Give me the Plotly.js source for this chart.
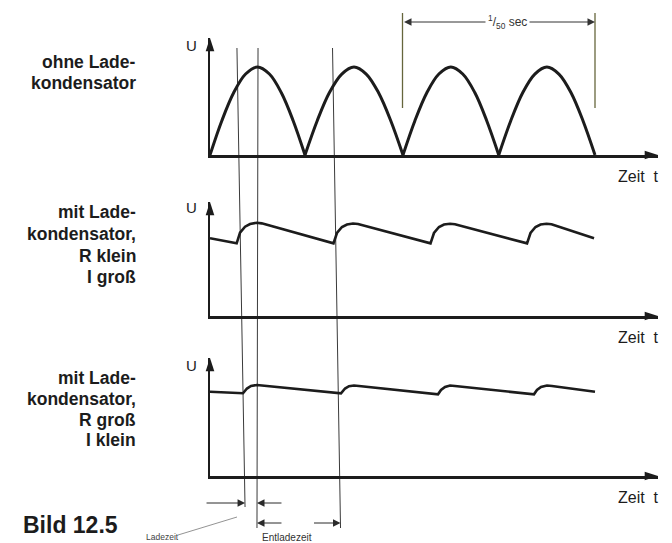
<!DOCTYPE html>
<html>
<head>
<meta charset="utf-8">
<script src="https://cdn.plot.ly/plotly-3.0.1.min.js"></script>
<style>
html,body{margin:0;padding:0;background:#ffffff;}
#chart{width:672px;height:543px;}
</style>
</head>
<body>
<div id="chart"></div>
<script>
// ---- data (time t in ms, voltage U relative to the peak of the rectified wave) ----
// ohne Ladekondensator: rectified half-waves (segments separated by null to keep cusps)
const tOhne = [0, 1.23, 2.47, 3.70, 4.93, 6.17, 7.40, 8.64, 9.87, null,
               9.87, 11.14, 12.41, 13.69, 14.96, 16.23, 17.50, 18.78, 20.05, null,
               20.05, 21.29, 22.54, 23.78, 25.02, 26.26, 27.51, 28.75, 30.00, null,
               30.00, 31.25, 32.50, 33.75, 35.00, 36.25, 37.50, 38.75, 40.00];
const uOhne = [0, 0.39, 0.71, 0.92, 1.00, 0.92, 0.71, 0.39, 0, null,
               0, 0.39, 0.71, 0.92, 1.00, 0.92, 0.71, 0.39, 0, null,
               0, 0.39, 0.71, 0.92, 1.00, 0.92, 0.71, 0.39, 0, null,
               0, 0.39, 0.71, 0.92, 1.00, 0.92, 0.71, 0.39, 0];
// mit Ladekondensator, R klein, I groß
const tKlein = [0, 2.77, 3.12, 3.64, 4.16, 4.85, 5.37, 12.83, 13.19, 13.71, 14.23, 14.86, 15.38,
                22.91, 23.27, 23.79, 24.31, 24.94, 25.45, 32.94, 33.30, 33.82, 34.34, 34.96, 35.48, 39.90];
const uKlein = [0.883, 0.826, 0.947, 1.015, 1.045, 1.060, 1.053, 0.826, 0.943, 1.011, 1.040, 1.051, 1.045,
                0.826, 0.943, 1.011, 1.040, 1.049, 1.042, 0.826, 0.943, 1.011, 1.040, 1.049, 1.042, 0.883];
// mit Ladekondensator, R groß, I klein
const tGross = [0, 3.43, 3.84, 4.26, 4.88, 5.40, 13.61, 14.03, 14.44, 14.96, 15.48,
                23.69, 24.00, 24.42, 24.94, 25.45, 33.66, 33.97, 34.39, 35.01, 35.53, 40.00];
const uGross = [0.958, 0.940, 0.994, 1.023, 1.034, 1.028, 0.940, 0.994, 1.020, 1.028, 1.023,
                0.928, 0.977, 1.011, 1.028, 1.023, 0.928, 0.977, 1.011, 1.028, 1.023, 0.958];
// marker lines (Ladezeit / Entladezeit), time at top and at bottom of the (slightly skewed) scan
const markTop = [2.80, 4.99, 12.73];
const markBottom = [3.64, 4.88, 13.56];
// one period of the 50 Hz mains
const periodMarks = [20, 40];
const periodLabel = '<sup>1</sup>/<sub>50</sub> sec';
// labels
const panelLabels = [
  ['ohne Lade-', 'kondensator'],
  ['mit Lade-', 'kondensator,', 'R klein', 'I groß'],
  ['mit Lade-', 'kondensator,', 'R groß', 'I klein']
];
const yAxisLabel = 'U';
const xAxisLabel = 'Zeit&nbsp; t';
const figureLabel = 'Bild 12.5';
const chargeLabel = 'Ladezeit';
const dischargeLabel = 'Entladezeit';

// ---- layout geometry ----
const W = 672, H = 543;
const ink = '#1c1c1c';
const FONT = '"Liberation Sans", Arial, Helvetica, sans-serif';
const x0px = 210, xEndPx = 658, pxPerMs = 9.625, pxPerU = 88;
const tMax = (xEndPx - x0px) / pxPerMs;
const px = v => v / W;
const py = v => 1 - v / H;

const panels = [
  {base: 155, tip: 38, t: tOhne, u: uOhne, shape: 'spline', w: 3, labelY: [62, 83], uY: 45, zeitY: 177},
  {base: 316, tip: 202, t: tKlein, u: uKlein, shape: 'linear', w: 2.6, labelY: [212, 234, 256, 277], uY: 207, zeitY: 337},
  {base: 476, tip: 358, t: tGross, u: uGross, shape: 'linear', w: 2.6, labelY: [378, 399, 420, 440], uY: 365, zeitY: 497}
];

const axStyle = {showline: true, linewidth: 2.5, linecolor: ink, showgrid: false, zeroline: false,
                 showticklabels: false, ticks: '', fixedrange: true};

const layout = {
  width: W, height: H,
  margin: {l: 0, r: 0, t: 0, b: 0},
  paper_bgcolor: '#ffffff', plot_bgcolor: 'rgba(0,0,0,0)',
  showlegend: false,
  font: {family: FONT, color: ink},
  shapes: [], annotations: []
};
const traces = [];

panels.forEach((p, i) => {
  const sfx = i ? String(i + 1) : '';
  const yMax = (p.base - p.tip) / pxPerU;
  layout['xaxis' + sfx] = Object.assign({}, axStyle, {domain: [px(x0px), px(xEndPx)], range: [0, tMax], anchor: 'y' + sfx});
  layout['yaxis' + sfx] = Object.assign({}, axStyle, {domain: [py(p.base), py(p.tip)], range: [0, yMax], anchor: 'x' + sfx});
  traces.push({type: 'scatter', mode: 'lines', x: p.t, y: p.u, xaxis: 'x' + sfx, yaxis: 'y' + sfx,
               connectgaps: false, cliponaxis: false,
               line: {color: ink, width: p.w, shape: p.shape, smoothing: 1}});
  // axis arrow heads
  traces.push({type: 'scatter', mode: 'markers', x: [tMax, 0], y: [0, yMax], xaxis: 'x' + sfx, yaxis: 'y' + sfx,
               cliponaxis: false,
               marker: {symbol: 'arrow', size: 14, angle: [90, 0], color: ink, line: {width: 0}}});
  // left labels
  panelLabels[i].forEach((s, k) => {
    layout.annotations.push({xref: 'paper', yref: 'paper', x: px(138), y: py(p.labelY[k]),
      xanchor: 'right', yanchor: 'middle', showarrow: false, text: '<b>' + s + '</b>',
      font: {size: 17.5, family: FONT, color: ink}});
  });
  layout.annotations.push({xref: 'paper', yref: 'paper', x: px(191), y: py(p.uY), xanchor: 'center', yanchor: 'middle',
    showarrow: false, text: yAxisLabel, font: {size: 15, family: FONT, color: ink}});
  layout.annotations.push({xref: 'paper', yref: 'paper', x: px(638), y: py(p.zeitY), xanchor: 'center', yanchor: 'middle',
    showarrow: false, text: xAxisLabel, font: {size: 16, family: FONT, color: ink}});
});

// vertical marker lines through all panels
const lineBottoms = [507, 528, 528];
markTop.forEach((tt, i) => {
  layout.shapes.push({type: 'line', xref: 'x', yref: 'paper', x0: tt, x1: markBottom[i],
    y0: py(48), y1: py(lineBottoms[i]), line: {color: '#3a3a3a', width: 1}, layer: 'below'});
});

// period (1/50 s) dimension
periodMarks.forEach(tt => {
  layout.shapes.push({type: 'line', xref: 'x', yref: 'paper', x0: tt, x1: tt, y0: py(13), y1: py(108),
    line: {color: '#66663c', width: 1.3}, layer: 'below'});
});
layout.annotations.push({xref: 'x', yref: 'paper', x: periodMarks[1], y: py(22), axref: 'x', ayref: 'pixel',
  ax: periodMarks[0], ay: 0, text: '', showarrow: true, arrowside: 'end+start',
  arrowhead: 2, startarrowhead: 2, arrowsize: 1.5, startarrowsize: 1.5, arrowwidth: 1, arrowcolor: '#333',
  standoff: 0, startstandoff: 0});
layout.annotations.push({xref: 'paper', yref: 'paper', x: px(507), y: py(22), xanchor: 'center', yanchor: 'middle',
  showarrow: false, text: periodLabel, bgcolor: '#ffffff', borderpad: 2,
  font: {size: 12, family: FONT, color: '#333'}});

// Ladezeit / Entladezeit dimension arrows
const dimArrows = [
  {x: markBottom[0], y: 503, ax: -40},
  {x: markBottom[1], y: 503, ax: 26},
  {x: markBottom[1], y: 523, ax: 26},
  {x: markBottom[2], y: 523, ax: -28}
];
dimArrows.forEach(a => {
  layout.annotations.push({xref: 'x', yref: 'paper', x: a.x, y: py(a.y), axref: 'pixel', ayref: 'pixel',
    ax: a.ax, ay: 0, text: '', showarrow: true, arrowhead: 2, arrowsize: 1.5, arrowwidth: 1,
    arrowcolor: '#2a2a2a', standoff: 0});
});
layout.annotations.push({xref: 'paper', yref: 'paper', x: px(287), y: py(537), xanchor: 'center', yanchor: 'middle',
  showarrow: false, text: dischargeLabel, font: {size: 10, family: FONT, color: '#333'}});
layout.annotations.push({xref: 'paper', yref: 'paper', x: px(162), y: py(537), xanchor: 'center', yanchor: 'middle',
  showarrow: false, text: chargeLabel, font: {size: 8.5, family: FONT, color: '#444'}});
layout.shapes.push({type: 'line', xref: 'paper', yref: 'paper', x0: px(178), y0: py(535), x1: px(237), y1: py(517),
  line: {color: '#777', width: 0.8}});

// figure number
layout.annotations.push({xref: 'paper', yref: 'paper', x: px(21), y: py(525), xanchor: 'left', yanchor: 'middle',
  showarrow: false, text: '<b>' + figureLabel + '</b>', font: {size: 23, family: FONT, color: ink}});

Plotly.newPlot('chart', traces, layout, {displayModeBar: false, staticPlot: true});
</script>
</body>
</html>
